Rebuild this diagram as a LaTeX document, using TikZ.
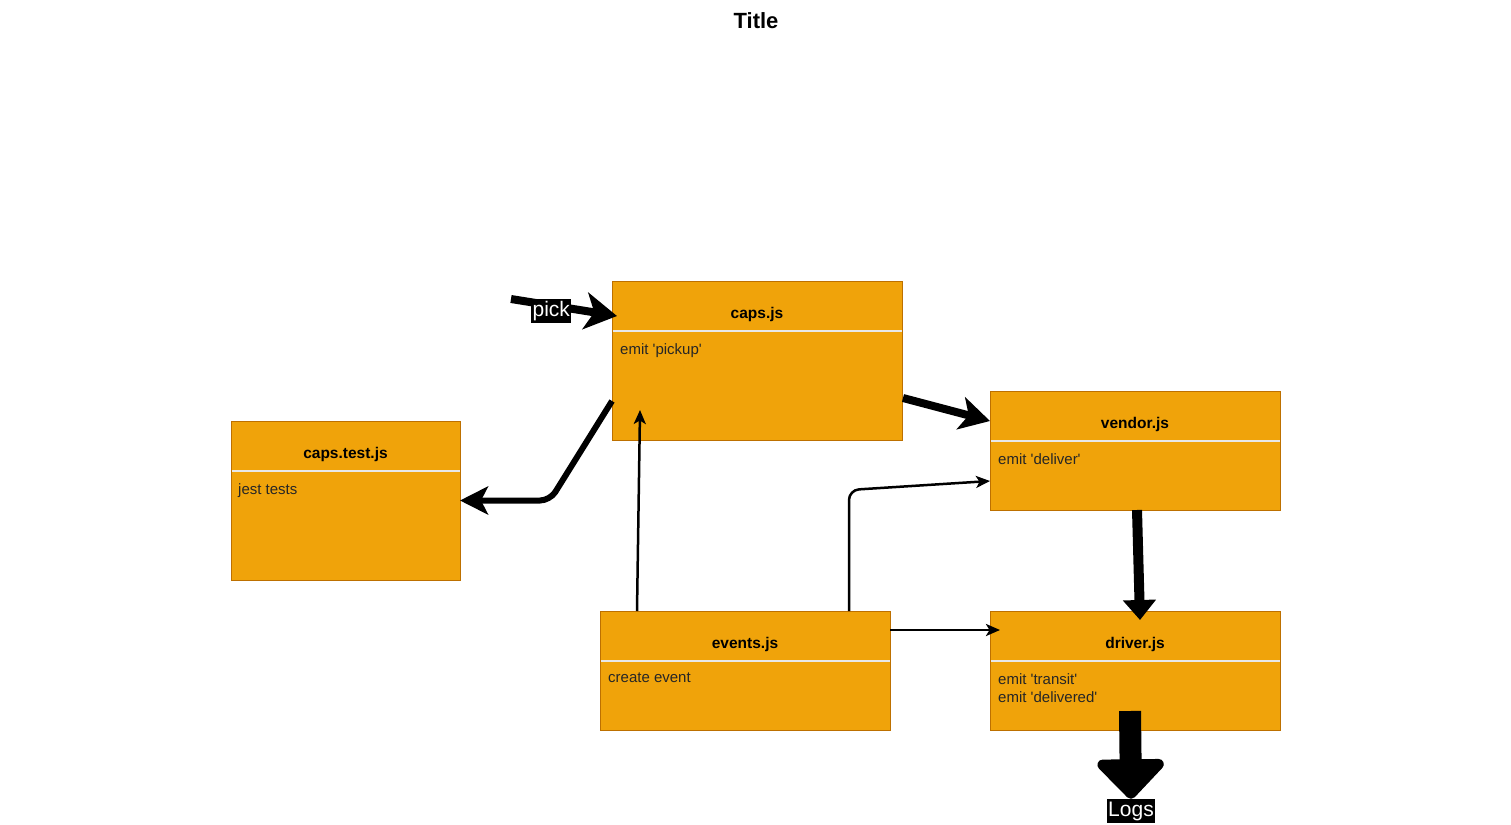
\documentclass[tikz,border=0pt]{standalone}
\usepackage{fontspec}
\setmainfont{Liberation Sans}
\usetikzlibrary{arrows.meta,calc}
\definecolor{boxfill}{HTML}{F0A30A}
\definecolor{boxline}{HTML}{BD7000}
\definecolor{headrule}{HTML}{E8E8E8}
\newcommand\q{\textquotesingle}

\begin{document}
\begin{tikzpicture}[x=1pt,y=-1pt,
  module/.style={draw=boxline, fill=boxfill, line width=1pt, anchor=north west,
                 inner sep=0pt, outer sep=0pt},
  headtext/.style={anchor=base, font=\bfseries\fontsize{15.5}{18}\selectfont},
  bodytext/.style={anchor=north west, inner sep=0pt, align=left,
                   font=\fontsize{15}{18}\selectfont, text=black!85},
  lbl/.style={fill=black, text=white, inner xsep=1.5pt, inner ysep=0pt,
              text height=17pt, text depth=7pt, font=\fontsize{21}{24}\selectfont},
  thin/.style={line width=2.5pt, -{Stealth[length=14pt,width=12pt,inset=3.5pt]}},
]
\fill[white] (0,0) rectangle (1511,824);
\useasboundingbox (0,0) rectangle (1511,824);

\node[font=\bfseries\fontsize{22}{26}\selectfont] (title) at (756,21) {Title};

% modules
\node[module, minimum width=290pt, minimum height=159pt] (caps)   at (612,281) {};
\node[module, minimum width=229pt, minimum height=159pt] (test)   at (231,421) {};
\node[module, minimum width=290pt, minimum height=119pt] (vendor) at (990,391) {};
\node[module, minimum width=290pt, minimum height=119pt] (events) at (600,611) {};
\node[module, minimum width=290pt, minimum height=119pt] (driver) at (990,611) {};

% header rule and module name
\foreach \n/\t in {caps/caps.js, test/caps.test.js, vendor/vendor.js, events/events.js, driver/driver.js}{
  \draw[headrule, line width=1.5pt] ($(\n.north west)+(0.5,50)$) -- ($(\n.north east)+(-0.5,50)$);
  \node[headtext] at ($(\n.north)+(0,37)$) {\t};
}

% module contents
\node[bodytext] (capsbody)   at ($(caps.north west)+(8,62)$)   {emit \q pickup\q};
\node[bodytext] (testbody)   at ($(test.north west)+(7,62)$)   {jest tests};
\node[bodytext] (vendorbody) at ($(vendor.north west)+(8,62)$) {emit \q deliver\q};
\node[bodytext] (eventsbody) at ($(events.north west)+(8,62)$) {create event};
\node[bodytext] (driverbody) at ($(driver.north west)+(8,62)$) {emit \q transit\q\\emit \q delivered\q};

% incoming pick
\coordinate (pickstart) at (511,299);
\draw[line width=8pt, -{Stealth[length=32pt,width=37pt,inset=9pt]}]
  (pickstart) -- ($(caps.north west)+(5,35)$) node[lbl, pos=0.38, yshift=-6pt] {pick};

% caps.js -> caps.test.js
\draw[line width=6pt, rounded corners=10pt, -{Stealth[length=28pt,width=28pt,inset=7pt]}]
  ($(caps.north west)+(0,120)$) -- ($(test.east)+(90,0)$) -- (test.east);

% caps.js -> vendor.js
\draw[line width=8pt, -{Stealth[length=30pt,width=33pt,inset=8pt]}]
  ($(caps.north east)+(1,117)$) -- ($(vendor.north west)+(0,30)$);

% vendor.js -> driver.js
\draw[line width=10pt, -{Triangle[length=20pt,width=32pt]}]
  ($(vendor.south)+(2,0)$) -- ($(driver.north)+(5,9)$);

% events.js -> caps.js / vendor.js / driver.js
\draw[thin] ($(events.north west)+(37,0)$) -- ($(caps.south west)+(28,-30)$);
\draw[thin, rounded corners=10pt]
  ($(events.north west)+(249,0)$) -- ++(0,-121) -- ($(vendor.north west)+(0,90)$);
\draw[thin] ($(events.north east)+(0,19)$) -- ($(driver.north west)+(10,19)$);

% driver.js -> Logs
\node[lbl] (logs) at (1131,811) {Logs};
\draw[line width=22pt, line join=round, -{Triangle[length=42pt,width=78pt,round]}]
  ($(driver.south)+(-5,-19)$) -- (logs.north);
\end{tikzpicture}
\end{document}
